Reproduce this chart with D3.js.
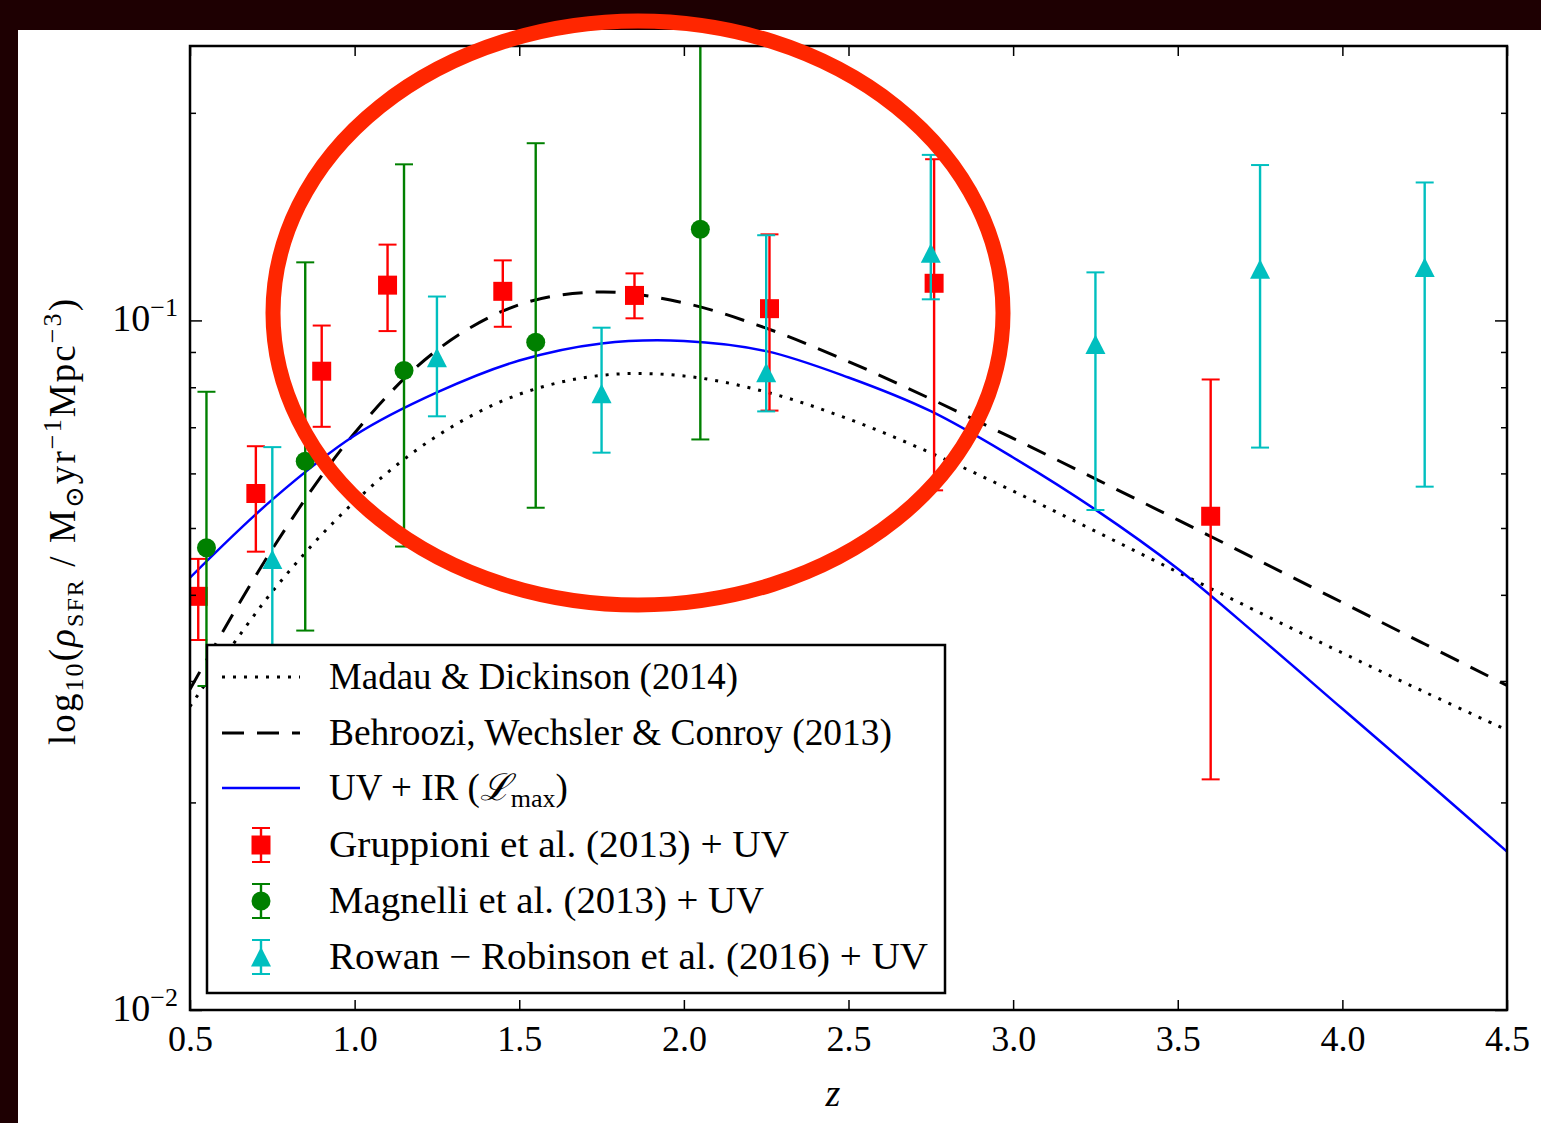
<!DOCTYPE html>
<html>
<head>
<meta charset="utf-8">
<title>Cosmic SFR density</title>
<script src="https://d3js.org/d3.v7.min.js"></script>
<style>
  body { margin: 0; background: #1e0002; }
  svg { display: block; }
  text { font-family: "Liberation Serif", "DejaVu Serif", serif; fill: #000; }
</style>
</head>
<body>
<script>
// ---- data ----
var xTicks = [0.5, 1.0, 1.5, 2.0, 2.5, 3.0, 3.5, 4.0, 4.5];
var xTickLabels = ["0.5", "1.0", "1.5", "2.0", "2.5", "3.0", "3.5", "4.0", "4.5"];
var yMajor = [0.01, 0.1];
var yMajorExp = ["\u22122", "\u22121"];
var yMinor = [0.02, 0.03, 0.04, 0.05, 0.06, 0.07, 0.08, 0.09, 0.2];

// model curves, sampled every 0.25 in z
var curveZ = [0.5, 0.75, 1.0, 1.25, 1.5, 1.75, 2.0, 2.25, 2.5, 2.75, 3.0, 3.25, 3.5, 3.75, 4.0, 4.25, 4.5];
var madau = [0.02755, 0.04043, 0.05459, 0.06798, 0.07814, 0.08325, 0.08307, 0.07874, 0.07196, 0.06424, 0.05656, 0.04946, 0.04315, 0.03766, 0.03294, 0.02891, 0.02546];
var behroozi = [0.02919, 0.04661, 0.06868, 0.09055, 0.10541, 0.10995, 0.10602, 0.09743, 0.08717, 0.07694, 0.06744, 0.05891, 0.05137, 0.04476, 0.03898, 0.03394, 0.02955];
var uvir = [0.04236, 0.05497, 0.06808, 0.07862, 0.08747, 0.09261, 0.09339, 0.09025, 0.08264, 0.07384, 0.06327, 0.05317, 0.04365, 0.03467, 0.02734, 0.02157, 0.01697];

// Gruppioni et al. (2013) + UV
var grupZ = [0.525, 0.7, 0.9, 1.1, 1.45, 1.85, 2.26, 2.76, 3.6];
var grupV = [0.0398, 0.0561, 0.0844, 0.1125, 0.1102, 0.1087, 0.1040, 0.1132, 0.0520];
var grupLo = [0.0344, 0.0462, 0.0701, 0.0965, 0.0979, 0.1007, 0.0740, 0.0567, 0.0216];
var grupHi = [0.0451, 0.0657, 0.0983, 0.1288, 0.1222, 0.1170, 0.1333, 0.1713, 0.0821];

// Magnelli et al. (2013) + UV
var magZ = [0.55, 0.85, 1.15, 1.55, 2.05];
var magV = [0.0468, 0.0625, 0.0846, 0.0930, 0.1356];
var magLo = [0.0295, 0.0355, 0.0470, 0.0535, 0.0672];
var magHi = [0.0788, 0.1214, 0.1684, 0.1807, 0.30];

// Rowan-Robinson et al. (2016) + UV
var rowZ = [0.75, 1.25, 1.75, 2.25, 2.75, 3.25, 3.75, 4.25];
var rowV = [0.0450, 0.0883, 0.0783, 0.0840, 0.1251, 0.0923, 0.1186, 0.1193];
var rowLo = [0.0280, 0.0726, 0.0643, 0.0738, 0.1073, 0.0531, 0.0654, 0.0574];
var rowHi = [0.0655, 0.1083, 0.0976, 0.1329, 0.1738, 0.1174, 0.1680, 0.1585];

var legendLabels = [
    "Madau & Dickinson (2014)",
    "Behroozi,  Wechsler & Conroy (2013)",
    "UV + IR (",
    "Gruppioni et al. (2013)  +  UV",
    "Magnelli et al. (2013)  +  UV",
    "Rowan \u2212 Robinson et al. (2016)  +  UV"
];

// ---- layout ----
var width = 1541, height = 1123;
var plotL = 190, plotR = 1507, plotT = 46, plotB = 1010;

var svg = d3.select("body").append("svg")
    .attr("width", width)
    .attr("height", height);

// dark surround + white page
svg.append("rect").attr("width", width).attr("height", height).attr("fill", "#1e0002");
svg.append("rect").attr("x", 18).attr("y", 30)
    .attr("width", width - 18).attr("height", height - 30).attr("fill", "#fff");

var x = d3.scaleLinear().domain([0.5, 4.5]).range([plotL, plotR]);
var y = d3.scaleLog().domain([0.01, 0.25]).range([plotB, plotT]);

svg.append("clipPath").attr("id", "plotclip")
  .append("rect").attr("x", plotL).attr("y", plotT)
    .attr("width", plotR - plotL).attr("height", plotB - plotT);

var plot = svg.append("g").attr("clip-path", "url(#plotclip)");

function series(zs, vs) {
    return zs.map(function(z, i) { return [z, vs[i]]; });
}

var line = d3.line()
    .x(function(d) { return x(d[0]); })
    .y(function(d) { return y(d[1]); })
    .curve(d3.curveCatmullRom.alpha(0.5));

plot.append("path").datum(series(curveZ, madau))
    .attr("d", line).attr("fill", "none").attr("stroke", "#000")
    .attr("stroke-width", 3).attr("stroke-dasharray", "3,8");
plot.append("path").datum(series(curveZ, behroozi))
    .attr("d", line).attr("fill", "none").attr("stroke", "#000")
    .attr("stroke-width", 3).attr("stroke-dasharray", "20,13");
plot.append("path").datum(series(curveZ, uvir))
    .attr("d", line).attr("fill", "none").attr("stroke", "#0000ff")
    .attr("stroke-width", 2.5);

// error bars + markers
function errorbars(zs, vs, lo, hi, color, marker) {
    var g = plot.append("g");
    var rows = zs.map(function(z, i) { return {z: z, v: vs[i], lo: lo[i], hi: hi[i]}; });
    var eb = g.selectAll(".eb").data(rows).enter().append("g");
    eb.append("line")
        .attr("x1", function(d) { return x(d.z); }).attr("x2", function(d) { return x(d.z); })
        .attr("y1", function(d) { return y(d.lo); }).attr("y2", function(d) { return y(d.hi); })
        .attr("stroke", color).attr("stroke-width", 2.4);
    ["lo", "hi"].forEach(function(k) {
        eb.append("line")
            .attr("x1", function(d) { return x(d.z) - 9; }).attr("x2", function(d) { return x(d.z) + 9; })
            .attr("y1", function(d) { return y(d[k]); }).attr("y2", function(d) { return y(d[k]); })
            .attr("stroke", color).attr("stroke-width", 2);
    });
    eb.append("path")
        .attr("transform", function(d) { return "translate(" + x(d.z) + "," + y(d.v) + ")"; })
        .attr("d", marker).attr("fill", color);
}

var squarePath = "M-9.5,-9.5H9.5V9.5H-9.5Z";
var circlePath = d3.symbol().type(d3.symbolCircle).size(Math.PI * 9.5 * 9.5)();
var trianglePath = "M0,-10L10,9.5L-10,9.5Z";

errorbars(grupZ, grupV, grupLo, grupHi, "#ff0000", squarePath);
errorbars(magZ, magV, magLo, magHi, "#008000", circlePath);
errorbars(rowZ, rowV, rowLo, rowHi, "#00bfbf", trianglePath);

// ---- axes ----
var axisStyle = function(g) {
    g.select(".domain").remove();
    g.selectAll(".tick line").attr("stroke", "#000").attr("stroke-width", 1.5);
};

svg.append("g").attr("transform", "translate(0," + plotB + ")")
    .call(d3.axisBottom(x).tickValues(xTicks).tickSize(-10).tickPadding(15)
        .tickFormat(function(d, i) { return xTickLabels[i]; }))
    .call(axisStyle)
    .selectAll("text").attr("font-size", 36).attr("font-family", "Liberation Serif").attr("fill", "#000");

svg.append("g").attr("transform", "translate(0," + plotT + ")")
    .call(d3.axisTop(x).tickValues(xTicks).tickSize(-10).tickFormat(""))
    .call(axisStyle);

var yAll = yMajor.concat(yMinor);

var yl = svg.append("g").attr("transform", "translate(" + plotL + ",0)")
    .call(d3.axisLeft(y).tickValues(yAll).tickSize(-6).tickFormat(""))
    .call(axisStyle);
yl.selectAll(".tick line").attr("x2", function(d) { return yMajor.indexOf(d) >= 0 ? 12 : 6; });

var yr = svg.append("g").attr("transform", "translate(" + plotR + ",0)")
    .call(d3.axisRight(y).tickValues(yAll).tickSize(-6).tickFormat(""))
    .call(axisStyle);
yr.selectAll(".tick line").attr("x2", function(d) { return yMajor.indexOf(d) >= 0 ? -12 : -6; });

// 10^-n labels
yMajor.forEach(function(v, i) {
    var t = svg.append("text")
        .attr("x", plotL - 12).attr("y", y(v) + 11)
        .attr("text-anchor", "end").attr("font-size", 38);
    t.append("tspan").text("10");
    t.append("tspan").attr("dy", -15).attr("font-size", 26).text(yMajorExp[i]);
});

// frame
svg.append("rect").attr("x", plotL).attr("y", plotT)
    .attr("width", plotR - plotL).attr("height", plotB - plotT)
    .attr("fill", "none").attr("stroke", "#000").attr("stroke-width", 2.5);

// axis titles
svg.append("text").attr("x", 833).attr("y", 1106)
    .attr("text-anchor", "middle").attr("font-size", 38).attr("font-style", "italic").text("z");

var ylab = svg.append("text")
    .attr("transform", "translate(75,522) rotate(-90)")
    .attr("text-anchor", "middle").attr("font-size", 37)
    .attr("textLength", 446).attr("lengthAdjust", "spacing");
ylab.append("tspan").text("log");
ylab.append("tspan").attr("dy", 8).attr("font-size", 26).text("10");
ylab.append("tspan").attr("dy", -8).text("(");
ylab.append("tspan").attr("font-style", "italic").text("\u03c1");
ylab.append("tspan").attr("dy", 8).attr("font-size", 24).text("SFR");
ylab.append("tspan").attr("dy", -8).text(" / M");
ylab.append("tspan").attr("dy", 8).attr("font-size", 26).text("\u2299");
ylab.append("tspan").attr("dy", -8).text("yr");
ylab.append("tspan").attr("dy", -14).attr("font-size", 26).text("\u22121");
ylab.append("tspan").attr("dy", 14).text("Mpc");
ylab.append("tspan").attr("dy", -14).attr("font-size", 26).text("\u22123");
ylab.append("tspan").attr("dy", 14).text(")");

// ---- legend ----
var lg = svg.append("g");
lg.append("rect").attr("x", 207).attr("y", 645).attr("width", 738).attr("height", 348)
    .attr("fill", "#fff").attr("stroke", "#000").attr("stroke-width", 2.5);

var rowY = [677, 733, 788, 845, 901, 957];
var rowW = [409, 563, 0, 460, 435, 599];

lg.append("line").attr("x1", 222).attr("x2", 300).attr("y1", rowY[0]).attr("y2", rowY[0])
    .attr("stroke", "#000").attr("stroke-width", 3).attr("stroke-dasharray", "3,8");
lg.append("line").attr("x1", 222).attr("x2", 300).attr("y1", rowY[1]).attr("y2", rowY[1])
    .attr("stroke", "#000").attr("stroke-width", 3).attr("stroke-dasharray", "22,13");
lg.append("line").attr("x1", 222).attr("x2", 300).attr("y1", rowY[2]).attr("y2", rowY[2])
    .attr("stroke", "#0000ff").attr("stroke-width", 2.5);

[["#ff0000", squarePath], ["#008000", circlePath], ["#00bfbf", trianglePath]].forEach(function(m, i) {
    var cy = rowY[3 + i], cx = 261;
    lg.append("line").attr("x1", cx).attr("x2", cx).attr("y1", cy - 17).attr("y2", cy + 17)
        .attr("stroke", m[0]).attr("stroke-width", 2.4);
    [-17, 17].forEach(function(o) {
        lg.append("line").attr("x1", cx - 9).attr("x2", cx + 9).attr("y1", cy + o).attr("y2", cy + o)
            .attr("stroke", m[0]).attr("stroke-width", 2);
    });
    lg.append("path").attr("transform", "translate(" + cx + "," + cy + ")")
        .attr("d", m[1]).attr("fill", m[0]);
});

legendLabels.forEach(function(label, i) {
    var t = lg.append("text").attr("x", 329).attr("y", rowY[i] + 12).attr("font-size", 37);
    if (i === 2) {
        t.append("tspan").text(label);
        t.append("tspan").attr("font-style", "italic").text("\u2112");
        t.append("tspan").attr("dy", 7).attr("font-size", 26).text("max");
        t.append("tspan").attr("dy", -7).text(")");
    } else {
        t.text(label).attr("textLength", rowW[i]).attr("lengthAdjust", "spacingAndGlyphs");
    }
});

// ---- red annotation ellipse ----
svg.append("ellipse")
    .attr("cx", 638).attr("cy", 313).attr("rx", 365).attr("ry", 292)
    .attr("fill", "none").attr("stroke", "#ff2600").attr("stroke-width", 15);
</script>
</body>
</html>
